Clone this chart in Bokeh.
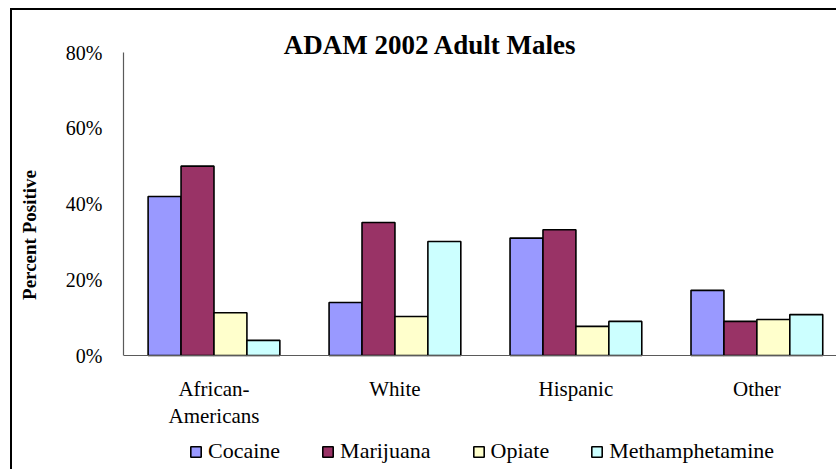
from bokeh.plotting import figure
from bokeh.models import Range1d, FixedTicker, NumeralTickFormatter, Legend, LegendItem, Label, Span, InlineStyleSheet
from bokeh.embed import file_html
from bokeh.resources import INLINE
import numpy as np

categories = ["African-\nAmericans", "White", "Hispanic", "Other"]
series = ["Cocaine", "Marijuana", "Opiate", "Methamphetamine"]
cocaine = [0.42, 0.14, 0.31, 0.172]
marijuana = [0.50, 0.351, 0.332, 0.09]
opiate = [0.113, 0.103, 0.077, 0.095]
meth = [0.04, 0.301, 0.09, 0.108]
colors = ["#9999FF", "#993366", "#FFFFCC", "#CCFFFF"]
y_ticks = [0, 0.2, 0.4, 0.6, 0.8]

FONT = "Liberation Serif"

W, H = 836, 469
px = 0.8 / 303.0  # data units per pixel on y
p = figure(width=W, height=H, output_backend="svg", toolbar_location=None,
           x_axis_location=None,
           x_range=Range1d(0, 3.94), y_range=Range1d(-(H - 355) * px, 0.8 + 52 * px),
           min_border_left=123, min_border_right=0, min_border_top=0, min_border_bottom=0)
p.outline_line_color = None
p.xgrid.grid_line_color = None
p.ygrid.grid_line_color = None

bw = 0.182
idx = np.arange(len(categories))
renderers = []
for j, (name, vals) in enumerate(zip(series, [cocaine, marijuana, opiate, meth])):
    r = p.vbar(x=idx + 0.5 + (j - 1.5) * bw, top=vals, width=bw,
               fill_color=colors[j], line_color="black", line_width=1.6)
    renderers.append((name, r))

# x axis line at zero and category labels
p.add_layout(Span(location=0, dimension="width", line_color="#5a5a5a", line_width=1.2))
p.text(x=idx + 0.5, y=np.zeros(len(categories)), text=categories,
       text_font={"value": FONT}, text_font_size="21px", text_color="black",
       text_align="center", text_baseline="top", y_offset=21, text_line_height=1.15)

# y axis
p.yaxis.bounds = (0, 0.8)
p.yaxis.ticker = FixedTicker(ticks=y_ticks)
p.yaxis.formatter = NumeralTickFormatter(format="0%")
p.yaxis.major_tick_line_color = None
p.yaxis.minor_tick_line_color = None
p.yaxis.axis_line_color = "#5a5a5a"
p.yaxis.axis_line_width = 1.2
p.yaxis.major_label_text_font = FONT
p.yaxis.major_label_text_font_size = "20px"
p.yaxis.major_label_text_color = "black"
p.yaxis.major_label_standoff = 15
p.yaxis.axis_label = "Percent Positive"
p.yaxis.axis_label_text_font = FONT
p.yaxis.axis_label_text_font_style = "bold"
p.yaxis.axis_label_text_font_size = "19px"
p.yaxis.axis_label_text_color = "black"
p.yaxis.axis_label_standoff = 23

title = Label(x=1.696, y=0.8 + 8 * px, text="ADAM 2002 Adult Males", text_font=FONT,
              text_font_style="bold", text_font_size="27px", text_align="center",
              text_baseline="middle", text_color="black")
p.add_layout(title)

legend = Legend(items=[LegendItem(label=n, renderers=[r]) for n, r in renderers],
                orientation="horizontal", location=(66, 5),
                label_text_font=FONT, label_text_font_size="22px", label_text_color="black",
                glyph_width=13, glyph_height=13, label_standoff=6, spacing=41,
                padding=0, margin=0, border_line_color=None, background_fill_alpha=0)
p.add_layout(legend, "center")

p.stylesheets = [InlineStyleSheet(css=""":host { position: relative; }
:host::after { content: ""; position: absolute; left: 10px; top: 8px; right: -20px; bottom: -20px;
 border-left: 2px solid black; border-top: 2px solid black; box-shadow: 1px 1px 0 #999; pointer-events: none; z-index: 10; }""")]

open("out.html", "w").write(file_html(p, INLINE))
